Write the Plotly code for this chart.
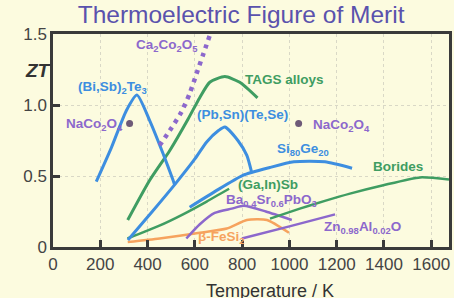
import plotly.graph_objects as go

# ---- data ----
bisb_T = [183, 247, 310, 355, 409, 465, 508, 515]
bisb_Z = [0.46, 0.70, 0.96, 1.07, 0.89, 0.66, 0.47, 0.435]

caco_T = [451, 494, 543, 578, 607, 634, 663]
caco_Z = [0.716, 0.82, 0.95, 1.08, 1.22, 1.35, 1.49]

tags_T = [316, 409, 494, 571, 620, 663, 727, 790, 865]
tags_Z = [0.19, 0.47, 0.68, 0.90, 1.05, 1.16, 1.20, 1.16, 1.05]

pbsn_T = [317, 420, 520, 600, 650, 700, 727, 782, 820, 841]
pbsn_Z = [0.05, 0.25, 0.45, 0.62, 0.74, 0.82, 0.845, 0.75, 0.645, 0.52]

sige_T = [578, 684, 803, 917, 1019, 1150, 1265]
sige_Z = [0.28, 0.39, 0.505, 0.56, 0.60, 0.60, 0.555]

gain_T = [315, 450, 550, 650, 745]
gain_Z = [0.06, 0.15, 0.23, 0.32, 0.41]

borides_T = [918, 1044, 1150, 1256, 1397, 1553, 1675]
borides_Z = [0.20, 0.27, 0.325, 0.376, 0.435, 0.49, 0.475]

basr_T = [564, 621, 684, 756, 807, 900, 1010]
basr_Z = [0.06, 0.16, 0.24, 0.27, 0.29, 0.25, 0.19]

znal_T = [799, 1000, 1193]
znal_Z = [0.06, 0.145, 0.23]

fesi_T = [316, 451, 621, 735, 820, 905, 998]
fesi_Z = [0.035, 0.06, 0.10, 0.13, 0.19, 0.19, 0.10]

naco_T = [324, 1039]
naco_Z = [0.87, 0.87]

x_ticks = [0, 200, 400, 600, 800, 1000, 1200, 1400, 1600]
y_ticks = [0, 0.5, 1.0, 1.5]
y_ticktext = ["0", "0.5", "1.0", "1.5"]

BLUE = "#3d8ee0"
GREEN = "#3f9d62"
PURPLE = "#8c68cc"
ORANGE = "#f6a35e"
BG = "#fcfbdf"

fig = go.Figure()

def line(x, y, color, width=3, dash=None):
    fig.add_trace(go.Scatter(x=x, y=y, mode="lines",
                             line=dict(color=color, width=width, dash=dash, shape="spline", smoothing=0.6),
                             hoverinfo="skip", showlegend=False))

line(fesi_T, fesi_Z, ORANGE, 2.5)
line(znal_T, znal_Z, PURPLE, 2.5)
line(basr_T, basr_Z, PURPLE, 2.5)
line(borides_T, borides_Z, GREEN, 2.5)
line(gain_T, gain_Z, GREEN, 2.5)
line(sige_T, sige_Z, BLUE, 3)
line(tags_T, tags_Z, GREEN, 3)
line(pbsn_T, pbsn_Z, BLUE, 3)
line(bisb_T, bisb_Z, BLUE, 3)
line(caco_T, caco_Z, PURPLE, 4.5, dash="4px,5px")

fig.add_trace(go.Scatter(x=naco_T, y=naco_Z, mode="markers",
                         marker=dict(color="#6e5a78", size=7),
                         hoverinfo="skip", showlegend=False))

lab_font = dict(family="Liberation Sans, Arial", size=13.5)

def label(text, x, y, color, xanchor="center"):
    fig.add_annotation(x=x, y=y, text="<b>" + text + "</b>", showarrow=False,
                       xanchor=xanchor, yanchor="middle",
                       font=dict(lab_font, color=color))

label("Ca<sub>2</sub>Co<sub>2</sub>O<sub>5</sub>", 481, 1.42, PURPLE)
label("(Bi,Sb)<sub>2</sub>Te<sub>3</sub>", 252, 1.12, BLUE)
label("TAGS alloys", 978, 1.18, GREEN)
label("(Pb,Sn)(Te,Se)", 801, 0.93, BLUE)
label("Si<sub>80</sub>Ge<sub>20</sub>", 1057, 0.685, BLUE)
label("Borides", 1460, 0.568, GREEN)
label("(Ga,In)Sb", 909, 0.44, GREEN)
label("Ba<sub>0.4</sub>Sr<sub>0.6</sub>PbO<sub>3</sub>", 722, 0.33, PURPLE, "left")
label("Zn<sub>0.98</sub>Al<sub>0.02</sub>O", 1307, 0.14, PURPLE)
label("β-FeSi<sub>2</sub>", 605, 0.065, ORANGE, "left")
label("NaCo<sub>2</sub>O<sub>4</sub>", 305, 0.865, PURPLE, "right")
label("NaCo<sub>2</sub>O<sub>4</sub>", 1093, 0.855, PURPLE, "left")

fig.add_annotation(x=-0.075, y=0.885, xref="paper", yref="paper", text="<b><i>ZT</i></b>",
                   showarrow=False, font=dict(family="Liberation Sans, Arial", size=19, color="#333333"))
fig.add_annotation(x=0.547, y=-0.205, xref="paper", yref="paper", yanchor="middle", text="Temperature / K",
                   showarrow=False, font=dict(family="Liberation Sans, Arial", size=18, color="#333333"))

axis_common = dict(showline=True, linecolor="#3a3a3a", linewidth=2.5, mirror=True,
                   ticks="inside", tickcolor="#3a3a3a", tickwidth=3, ticklen=7,
                   showgrid=True, gridcolor="#d9d8c6", griddash="dot", gridwidth=1,
                   zeroline=False, automargin=False,
                   tickfont=dict(family="Liberation Sans, Arial", size=17, color="#444444"))

fig.update_xaxes(range=[0, 1675], tickvals=x_ticks, **axis_common)
fig.update_yaxes(range=[0, 1.5], tickvals=y_ticks, ticktext=y_ticktext, **axis_common)

fig.update_layout(
    width=454, height=298,
    margin=dict(l=53, r=5, t=34, b=51),
    paper_bgcolor=BG, plot_bgcolor=BG,
    title=dict(text="Thermoelectric Figure of Merit", x=0.531, xanchor="center", y=0.953, yanchor="middle",
               font=dict(family="Liberation Sans, Arial", size=24.5, color="#5a52ad")),
)

fig.write_html("out.html", config={"displayModeBar": False},
               post_script="document.body.style.margin='0px';")
